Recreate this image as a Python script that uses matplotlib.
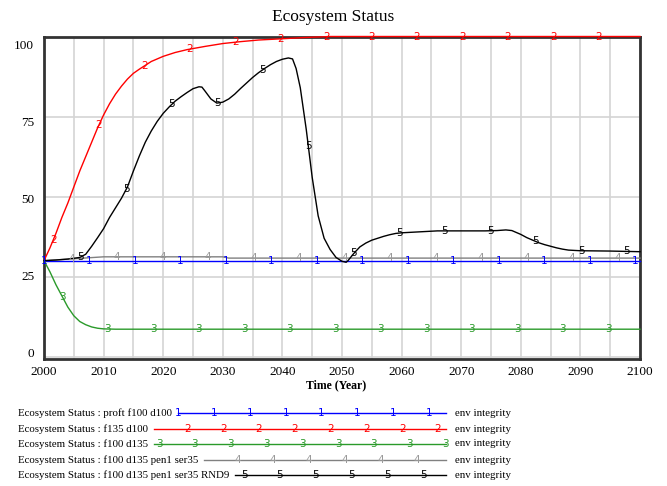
import numpy as np
import matplotlib
matplotlib.use("Agg")
import matplotlib.pyplot as plt
import matplotlib.transforms as mtransforms
from matplotlib.lines import Line2D

plt.rcParams['font.family'] = ['Liberation Serif', 'DejaVu Serif']

W, H = 667, 486

# series (year, env integrity)
blue_t = [2000, 2100]
blue_v = [30, 30]

red_t = [2000, 2001, 2002, 2003, 2004, 2005, 2006, 2007, 2008, 2009, 2010,
         2011, 2012, 2013, 2014, 2015, 2016, 2017, 2018, 2020, 2022, 2024,
         2027, 2030, 2033, 2036, 2040, 2044, 2048, 2100]
red_v = [30, 34, 38.5, 43.5, 48, 53, 58, 62.5, 67, 71.5, 75.5,
         79, 82, 84.5, 86.7, 88.5, 89.8, 91, 92.2, 93.8, 95, 95.9,
         96.9, 97.8, 98.4, 98.9, 99.3, 99.7, 100, 100]

green_t = [2000, 2001, 2002, 2003, 2004, 2005, 2006, 2007, 2008, 2009,
           2010, 2012, 2100]
green_v = [30, 26.5, 22.5, 19, 15.5, 12.8, 11, 10, 9.3, 8.9,
           8.7, 8.6, 8.6]

gray_t = [2000, 2005, 2010, 2030, 2031, 2100]
gray_v = [30, 30.6, 31.2, 31.2, 30.8, 30.8]

black_t = [2000, 2002, 2004, 2006, 2007, 2008, 2009, 2010, 2011, 2012,
           2013, 2014, 2015, 2016, 2017, 2018, 2019, 2020, 2021, 2022,
           2023, 2024, 2025, 2026, 2026.5, 2027, 2028, 2029, 2030, 2031,
           2032, 2033, 2034, 2035, 2036, 2037, 2038, 2039, 2040, 2041,
           2041.7, 2042.3, 2043, 2044, 2045, 2046, 2047, 2048, 2049, 2050,
           2050.7, 2051, 2052, 2053, 2054, 2055, 2056, 2057, 2058, 2059,
           2060, 2062, 2064, 2066, 2070, 2074, 2076, 2077.5, 2078.5, 2080,
           2081, 2082, 2083, 2084, 2085, 2086, 2087, 2088, 2089, 2090,
           2095, 2100]
black_v = [30, 30.2, 30.5, 31, 32, 34.5, 37.2, 40, 43.5, 46.5,
           49.5, 53, 58, 62.7, 67, 70.5, 73.5, 76, 78, 79.8,
           81.2, 82.5, 83.7, 84.3, 84.2, 83, 80.5, 79.2, 79.5, 80.5,
           82, 83.8, 85.5, 87.2, 88.7, 90, 91.2, 92.2, 92.9, 93.3,
           93, 90, 84, 71, 56, 44, 37, 33.5, 31, 29.8,
           29.5, 30, 32.3, 34.3, 35.5, 36.4, 37, 37.6, 38.1, 38.5,
           38.7, 38.9, 39.1, 39.3, 39.3, 39.3, 39.4, 39.6, 39.4, 38.2,
           37.2, 36.4, 35.6, 35, 34.5, 34, 33.6, 33.3, 33.2, 33.1,
           33.0, 32.8]

names = ["proft f100 d100", "f135 d100", "f100 d135",
         "f100 d135 pen1 ser35", "f100 d135 pen1 ser35 RND9"]
unit = "env integrity"
line_colors = ['#0000ff', '#ff0000', '#2a9a2a', '#808080', '#000000']
label_colors = ['#0000ff', '#ff0000', '#2a9a2a', '#999999', '#000000']

series = [(blue_t, blue_v), (red_t, red_v), (green_t, green_v),
          (gray_t, gray_v), (black_t, black_v)]

fig = plt.figure(figsize=(W / 100, H / 100), dpi=100)
ax = fig.add_axes([44 / W, 1 - 359.3 / H, (640 - 44) / W, (359.3 - 36.5) / H])

ax.set_xlim(2000, 2100)
ax.set_ylim(-0.8, 100)
ax.set_xticks(np.arange(2000, 2101, 10))
ax.set_xticks(np.arange(2005, 2100, 10), minor=True)
ax.set_yticks([0, 25, 50, 75, 100])
ax.grid(True, which='both', color='#d4d4d4', linewidth=1.2)
ax.set_axisbelow(True)
ax.tick_params(which='both', length=0, labelsize=9.5)
ax.tick_params(axis='y', pad=7)
ax.tick_params(axis='x', pad=5)
for s in ax.spines.values():
    s.set_linewidth(2)
    s.set_color('#333333')

# vensim squeezes the y labels a little toward the middle
fig.canvas.draw()
for lab in ax.get_yticklabels():
    v = lab.get_position()[1]
    dy = (-7.8 + 2.95 * (100 - v) / 25) * 0.72
    lab.set_transform(lab.get_transform() +
                      mtransforms.ScaledTranslation(0, dy / 72,
                                                    fig.dpi_scale_trans))

step = 7.63
for i, (t, v) in enumerate(series):
    ax.plot(t, v, color=line_colors[i], lw=1.0, clip_on=False, zorder=4)
    lt = np.arange(2000 + i * 1.55, 2100.01, step)
    lv = np.interp(lt, t, v)
    for x, y in zip(lt, lv):
        ax.text(x, y, str(i + 1), color=label_colors[i], fontsize=7.5,
                family='DejaVu Sans', ha='center', va='center', zorder=5)

fig.text(0.5, 1 - 17 / H, "Ecosystem Status", ha='center', va='center',
         fontsize=12.5)
fig.text(336 / W, 1 - 385 / H, "Time (Year)", ha='center', va='center',
         fontsize=8.5, fontweight='bold')

# legend below the chart
rows = [413, 429, 444, 460, 475]
seg_start = [178, 154, 154, 204, 235]
mark_start = [178.3, 187.3, 159, 237.3, 244]
seg_end = 446
for i, name in enumerate(names):
    fy = 1 - rows[i] / H
    fig.text(18 / W, fy, "Ecosystem Status : " + name, ha='left',
             va='center', fontsize=7.8)
    fig.add_artist(Line2D([seg_start[i] / W, seg_end / W], [fy, fy],
                          color=line_colors[i], lw=1.0))
    for mx in np.arange(mark_start[i], seg_end + 0.5, 35.8):
        fig.text(mx / W, fy, str(i + 1), color=label_colors[i], fontsize=7.5,
                 family='DejaVu Sans', ha='center', va='center')
    fig.text(455 / W, fy, unit, ha='left', va='center', fontsize=7.8)

fig.savefig("out.png", dpi=100)
